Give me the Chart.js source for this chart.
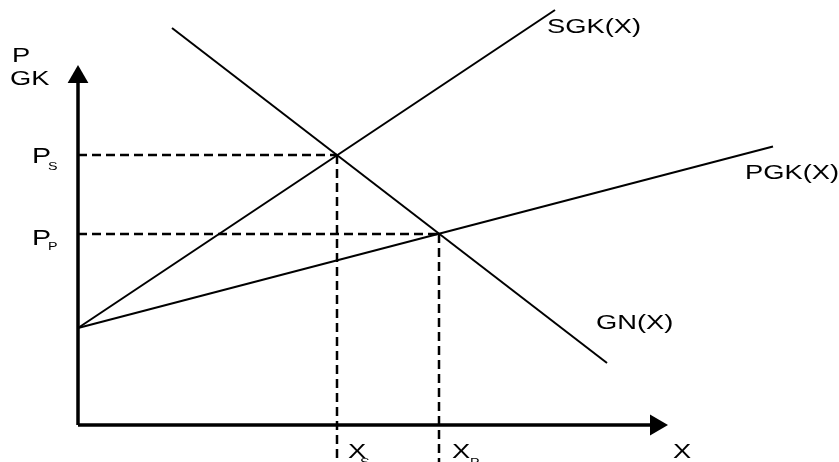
<!DOCTYPE html>
<html>
<head>
<meta charset="utf-8">
<script src="https://cdn.jsdelivr.net/npm/chart.js@4"></script>
<style>
  html, body { margin: 0; padding: 0; background: #ffffff; }
  canvas { display: block; }
</style>
</head>
<body>
<canvas id="marketChart" width="839" height="462"></canvas>
<script>
// Data block (units: the origin is where the two axes meet)
const supplySocial = [{x: 0, y: 9.7}, {x: 47.7, y: 41.5}];      // SGK(X)
const supplyPrivate = [{x: 0, y: 9.7}, {x: 69.5, y: 27.85}];    // PGK(X)
const demand = [{x: 9.4, y: 39.7}, {x: 52.9, y: 6.2}];          // GN(X)
const equilibriumX = [25.9, 36.1];   // X_S, X_P
const equilibriumP = [27.0, 19.1];   // P_S, P_P
const axisEnds = {x: 57.8, y: 34.8};

// Label block: text, anchor x / y (baseline), font size
const labelTexts = ['P', 'GK', 'P', 'S', 'P', 'P', 'SGK(X)', 'PGK(X)', 'GN(X)', 'X', 'X', 'S', 'X', 'P'];
const labelX = [-6.6, -6.8, -4.6, -3.0, -4.6, -3.0, 46.9, 66.7, 51.8, 59.5, 27.0, 28.2, 37.4, 39.2];
const labelY = [36.3, 34.0, 26.2, 25.5, 18.0, 17.5, 39.2, 24.6, 9.6, -3.3, -3.3, -4.1, -3.3, -4.1];
const labelSizes = [21, 21, 22, 11, 22, 11, 21, 21, 21, 21, 21, 11, 21, 11];

// Dashed guides from each intersection to the axes
const guideSets = [];
equilibriumX.forEach((ex, i) => {
    guideSets.push({
        data: [{x: 0, y: equilibriumP[i]}, {x: ex, y: equilibriumP[i]}],
        borderColor: '#000', borderWidth: 2.5, borderDash: [9, 5],
        showLine: true, pointRadius: 0
    });
    guideSets.push({
        data: [{x: ex, y: equilibriumP[i]}, {x: ex, y: -4}],
        borderColor: '#000', borderWidth: 2.5, borderDash: [9, 5],
        showLine: true, pointRadius: 0
    });
});

// Text labels plugin
const axisLabels = {
    id: 'axisLabels',
    afterDatasetsDraw(chart) {
        const ctx = chart.ctx;
        const xs = chart.scales.x;
        const ys = chart.scales.y;
        ctx.save();
        ctx.fillStyle = '#000';
        ctx.textBaseline = 'alphabetic';
        labelTexts.forEach((t, i) => {
            ctx.save();
            ctx.translate(xs.getPixelForValue(labelX[i]), ys.getPixelForValue(labelY[i]));
            ctx.scale(1.3, 1);  // the source drawing is stretched sideways
            ctx.font = labelSizes[i] + 'px "Liberation Sans", Arial, sans-serif';
            ctx.fillText(t, 0, 0);
            ctx.restore();
        });
        ctx.restore();
    }
};

const marketConfig = {
    type: 'scatter',
    data: {
        datasets: [
            // Axes
            {data: [{x: 0, y: 0}, {x: axisEnds.x, y: 0}], borderColor: '#000', borderWidth: 3.5, showLine: true, pointRadius: 0},
            {data: [{x: 0, y: 0}, {x: 0, y: axisEnds.y}], borderColor: '#000', borderWidth: 3.5, showLine: true, pointRadius: 0},
            // Arrow heads
            {
                data: [{x: axisEnds.x, y: 0}, {x: 0, y: axisEnds.y}],
                pointStyle: 'triangle', pointRadius: 12, rotation: [90, 0],
                backgroundColor: '#000', borderColor: '#000', borderWidth: 0
            },
            ...guideSets,
            // Curves
            {data: supplySocial, borderColor: '#000', borderWidth: 2, showLine: true, pointRadius: 0},
            {data: supplyPrivate, borderColor: '#000', borderWidth: 2, showLine: true, pointRadius: 0},
            {data: demand, borderColor: '#000', borderWidth: 2, showLine: true, pointRadius: 0}
        ]
    },
    options: {
        responsive: false,
        animation: false,
        layout: {padding: 0, autoPadding: false},
        scales: {
            x: {type: 'linear', min: -7.8, max: 76.1, display: false},
            y: {type: 'linear', min: -3.7, max: 42.5, display: false}
        },
        plugins: {
            legend: {display: false},
            tooltip: {enabled: false}
        }
    },
    plugins: [axisLabels]
};

const marketChart = new Chart(document.getElementById('marketChart'), marketConfig);
</script>
</body>
</html>
